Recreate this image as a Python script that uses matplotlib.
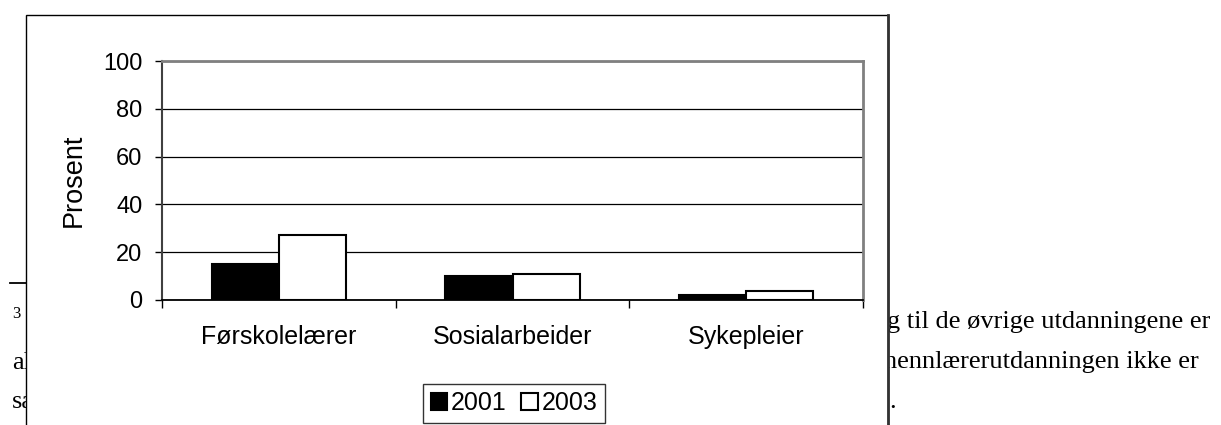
import matplotlib
matplotlib.use("Agg")
import matplotlib.pyplot as plt
from matplotlib.patches import Rectangle, Patch
from matplotlib.lines import Line2D
import numpy as np

# data
categories = ["Førskolelærer", "Sosialarbeider", "Sykepleier"]
years = ["2001", "2003"]
values_2001 = [15, 10, 2.3]
values_2003 = [27, 11, 3.8]
y_ticks = [0, 20, 40, 60, 80, 100]

plt.rcParams["font.family"] = ["Liberation Sans", "DejaVu Sans"]

W, H = 1221, 425
fig = plt.figure(figsize=(W / 100, H / 100), dpi=100)


def fx(px):
    return px / W


def fy(py):
    return 1 - py / H


# document text that sits behind the chart frame
serif = ["Liberation Serif", "DejaVu Serif"]
fig.text(fx(12), fy(318), "3", fontsize=12, family=serif, va="baseline", zorder=1)
fig.text(fx(12), fy(369), "al", fontsize=19, family=serif, va="baseline", zorder=1)
fig.text(fx(12), fy(408), "sa", fontsize=19, family=serif, va="baseline", zorder=1)
fig.text(fx(887), fy(328), "g til de øvrige utdanningene er", fontsize=19,
         family=serif, va="baseline", zorder=1)
fig.text(fx(884), fy(368), "hennlærerutdanningen ikke er", fontsize=19,
         family=serif, va="baseline", zorder=1)
fig.text(fx(889), fy(408), ".", fontsize=19, family=serif, va="baseline", zorder=1)
fig.add_artist(Line2D([fx(10), fx(27)], [fy(283), fy(283)], transform=fig.transFigure,
                      color="black", lw=1.3, zorder=1))

# white chart frame
frame = Rectangle((fx(26), fy(460)), fx(888) - fx(26), fy(15) - fy(460),
                  transform=fig.transFigure, facecolor="white", edgecolor="black",
                  lw=1, zorder=2)
fig.add_artist(frame)
fig.add_artist(Line2D([fx(888), fx(888)], [fy(15), fy(460)], transform=fig.transFigure,
                      color="#333333", lw=2, zorder=2.1))

ax = fig.add_axes([fx(162), fy(300), fx(863) - fx(162), fy(61) - fy(300)])
ax.set_zorder(3)

x = np.arange(len(categories))
w = 0.287
ax.bar(x - w / 2, values_2001, w, color="black", edgecolor="black", lw=1.5, zorder=3)
ax.bar(x + w / 2, values_2003, w, color="white", edgecolor="black", lw=1.5, zorder=3)

ax.set_xlim(-0.5, 2.5)
ax.set_ylim(0, 100)
ax.set_axisbelow(True)
ax.yaxis.grid(True, color="black", lw=0.9)

ax.spines["top"].set_color("#808080")
ax.spines["top"].set_linewidth(2)
ax.spines["right"].set_color("#808080")
ax.spines["right"].set_linewidth(2)
ax.spines["left"].set_color("#404040")
ax.spines["left"].set_linewidth(1.5)
ax.spines["bottom"].set_color("black")
ax.spines["bottom"].set_linewidth(1.3)

ax.set_yticks(y_ticks)
ax.tick_params(axis="y", direction="out", length=5, width=1, pad=9, labelsize=17)

ax.set_xticks([-0.5, 0.5, 1.5, 2.5])
ax.set_xticklabels([])
ax.set_xticks(x, minor=True)
ax.set_xticklabels(categories, minor=True)
ax.tick_params(axis="x", which="major", direction="out", length=6, width=1)
ax.tick_params(axis="x", which="minor", length=0, pad=18, labelsize=18)

ax.set_ylabel("Prosent", fontsize=19.5)
ax.yaxis.set_label_coords(-0.107, 0.5)

handles = [Patch(facecolor="black", edgecolor="black", lw=1.5),
           Patch(facecolor="white", edgecolor="black", lw=1.5)]
leg = fig.legend(handles, years, loc="center", bbox_to_anchor=(fx(514), fy(403)),
                 bbox_transform=fig.transFigure, ncol=2, frameon=True, fancybox=False,
                 edgecolor="black", handlelength=0.65, handleheight=0.65,
                 handletextpad=0.15, columnspacing=0.6, borderpad=0.3, fontsize=18)
leg.get_frame().set_linewidth(1)
leg.set_zorder(4)

fig.savefig("out.png", dpi=100)
